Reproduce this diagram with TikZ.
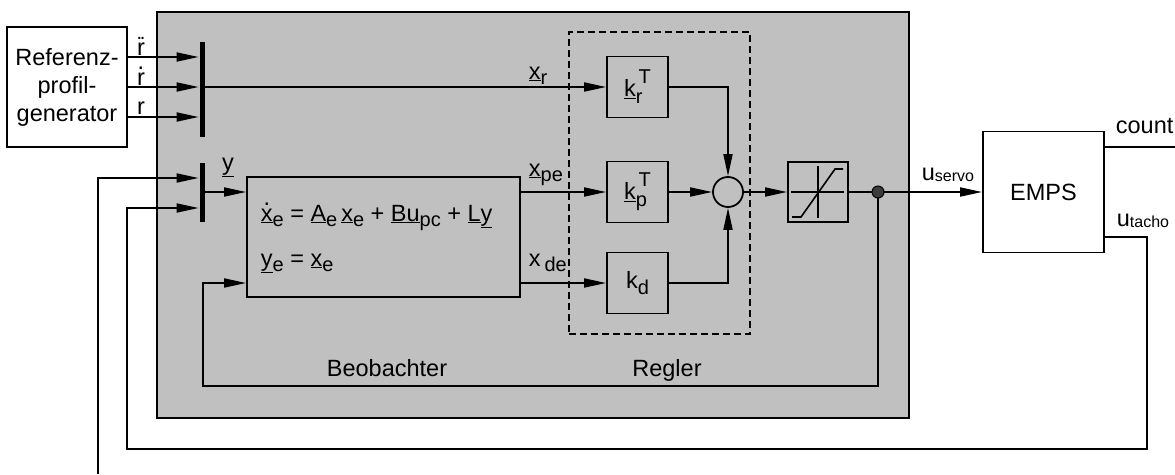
\documentclass[tikz,border=0pt]{standalone}
\usepackage{fontspec}
\setmainfont{Liberation Sans}
\usetikzlibrary{arrows.meta}
\definecolor{panelgray}{RGB}{192,192,192}
\definecolor{dotgray}{RGB}{60,60,60}
\newcommand\ul[1]{\underline{#1}}
\newcommand\sbs[2][20]{\raisebox{-0.25em}{\fontsize{#1}{#1}\selectfont #2}}
\newcommand\sbsl[2][16]{\raisebox{-0.08em}{\fontsize{#1}{#1}\selectfont #2}}
\newcommand\dotover[2]{\mbox{\ooalign{\hfil\raisebox{0.66em}{#1}\hfil\cr\hfil#2\hfil\cr}}}
\newcommand\twodots{{\fontsize{20}{20}\selectfont .\kern-0.12em.}}
\newcommand\ksup[2]{\rlap{\raisebox{-0.3em}{\fontsize{20}{20}\selectfont #1}}\hspace{0.12em}\raisebox{0.55em}{\fontsize{20}{20}\selectfont #2}}
\begin{document}
\begin{tikzpicture}[x=1pt,y=-1pt, line width=1.8pt,
  every node/.style={font=\fontsize{23.5}{28}\selectfont},
  blk/.style={draw, line width=1.8pt, inner sep=0pt},
  arr/.style={-{Triangle[length=22pt,width=9pt]}},
  bar/.style={fill=black, draw=none, minimum width=5pt, inner sep=0pt},
  lbl/.style={inner sep=0pt}]
\useasboundingbox (0,0) rectangle (1175,474);

% blocks
\node[blk, fill=panelgray, minimum width=752pt, minimum height=406pt] (panel) at (533,215) {};
\node[blk, fill=white, minimum width=120pt, minimum height=120pt, align=center] (ref) at (67,87) {Referenz-\\profil-\\generator};
\node[draw, dash pattern=on 7pt off 4pt, line width=1.3pt, minimum width=181pt, minimum height=302pt, inner sep=0pt] (regbox) at (659.5,183) {};
\node[bar, minimum height=95pt] (mux1) at (202,89.5) {};
\node[bar, minimum height=59pt] (mux2) at (202,192.5) {};
\node[blk, minimum width=273pt, minimum height=120pt] (obs) at (383.5,237) {};
\node[lbl, anchor=base west] (eq1) at (260,221) {\ul{\dotover{.}{x}}\sbs{e}\ =\ \ul{A}\sbs{e}\,\ul{x}\sbs{e}\ +\ \ul{B}\ul{u}\sbs{pc}\ +\ \ul{L}\ul{y}};
\node[lbl, anchor=base west] (eq2) at (260,266) {\ul{y}\sbs{e}\ =\ \ul{x}\sbs{e}};
\node[blk, minimum width=61pt, minimum height=61pt] (kr) at (637.5,87) {\ul{k}\ksup{r}{T}};
\node[blk, minimum width=61pt, minimum height=61pt] (kp) at (637.5,192) {\ul{k}\ksup{p}{T}};
\node[blk, minimum width=61pt, minimum height=61pt] (kd) at (637.5,283) {k\sbs{d}};
\node[draw, circle, minimum size=30pt, inner sep=0pt, line width=1.8pt] (sum) at (728,192) {};
\node[blk, minimum width=60pt, minimum height=60pt] (sat) at (818,192) {};
\node[blk, fill=white, minimum width=121pt, minimum height=121pt] (emps) at (1043.5,192) {EMPS};

% saturation symbol
\draw[line width=1.2pt] ([xshift=-27pt]sat.center) -- ([xshift=26pt]sat.center);
\draw[line width=1.2pt] ([yshift=26pt]sat.center) -- ([yshift=-26pt]sat.center);
\draw[line width=1.6pt] (sat.center) ++(-26,25) -- ++(9,0) -- ++(34,-48) -- ++(8,0);

% coordinates
\coordinate (lb) at (98,474);
\coordinate (tr) at (1147,449);
\coordinate (tl) at (127,449);
\coordinate (fbc) at (203,386);
\coordinate (jn) at (878,192);
\coordinate (cnt) at (1175,147);

% connectors
\draw[arr] (ref.east |- 0,57) -- (mux1.west |- 0,57);
\draw[arr] (ref.east |- 0,87) -- (mux1.west |- 0,87);
\draw[arr] (ref.east |- 0,117) -- (mux1.west |- 0,117);
\draw[arr] (mux1.east |- kr.west) -- (kr.west);
\draw[arr] (lb) |- (mux2.west |- 0,178);
\draw[arr] (emps.east |- 0,237) -| (tr) -- (tl) |- (mux2.west |- 0,208);
\draw[arr] (mux2.east |- 0,192) -- (obs.west |- 0,192);
\draw[arr] (obs.east |- kp.west) -- (kp.west);
\draw[arr] (obs.east |- kd.west) -- (kd.west);
\draw[arr] (kr.east) -| (sum.north);
\draw[arr] (kd.east) -| (sum.south);
\draw[arr] (kp.east) -- (sum.west);
\draw[arr] (sum.east) -- (sat.west);
\draw[arr] (sat.east) -- (emps.west);
\draw[arr] (jn) |- (fbc) |- (obs.west |- 0,283);
\draw (emps.east |- cnt) -- (cnt);
\node[circle, fill=dotgray, draw, line width=1pt, minimum size=12pt, inner sep=0pt] (dot) at (jn) {};

% labels
\node[lbl, anchor=base] (lrdd) at (141,55) {\dotover{\twodots}{r}};
\node[lbl, anchor=base] (lrd) at (141,85) {\dotover{.}{r}};
\node[lbl, anchor=base] (lr) at (141,114) {r};
\node[lbl, anchor=base] (ly) at (228,170) {\ul{y}};
\node[lbl, anchor=base west] (lxr) at (528,79) {\ul{x}\sbs{r}};
\node[lbl, anchor=base west] (lxpe) at (528,176) {\ul{x}\sbs{pe}};
\node[lbl, anchor=base west] (lxde) at (528,266) {x\,\sbs{de}};
\node[lbl, anchor=base] (lbeob) at (387,376) {Beobachter};
\node[lbl, anchor=base] (lreg) at (667,376) {Regler};
\node[lbl, anchor=base west] (lus) at (921,180) {u\sbsl{servo}};
\node[lbl, anchor=base west] (lut) at (1116,226) {u\sbsl{tacho}};
\node[lbl, anchor=base west] (lcnt) at (1115,133) {count};
\end{tikzpicture}
\end{document}
